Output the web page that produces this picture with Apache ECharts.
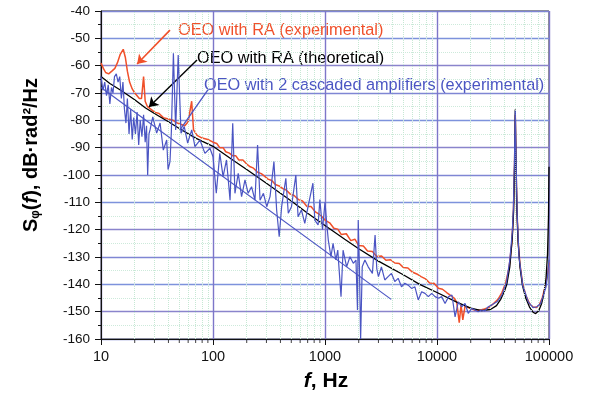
<!DOCTYPE html>
<html><head><meta charset="utf-8">
<script src="https://cdn.jsdelivr.net/npm/echarts@6/dist/echarts.min.js"></script>
<style>html,body{margin:0;padding:0;background:#fff}#c{width:591px;height:399px}</style>
</head><body><div id="c"></div>
<script>
// ---- data ----
const xTickLabels = {10:'10',100:'100',1000:'1000',10000:'10000',100000:'100000'};
const minorFreqs = [20,30,40,50,60,70,80,90,200,300,400,500,600,700,800,900,2000,3000,4000,5000,6000,7000,8000,9000,20000,30000,40000,50000,60000,70000,80000,90000];

const theoretical = [[10,-64],[12,-66.5],[15,-69],[20,-72.5],[25,-75.5],[30,-77.5],[40,-80.5],[50,-83],[70,-86.5],[100,-89.5],[150,-94.5],[200,-98],[300,-103],[500,-109.5],[700,-114],[1000,-118.5],[1500,-123.5],[2000,-127],[3000,-131.5],[5000,-136.5],[7000,-140],[10000,-143],[15000,-146.5],[20000,-148.7],[25000,-149.6],[30000,-149.2],[34000,-147.8],[37000,-145.5],[40000,-142.5],[42000,-140],[44700,-133.5],[47000,-123],[48300,-113],[49300,-97],[50000,-76],[50700,-97],[51700,-113],[53000,-124.5],[55000,-133.5],[58000,-140.5],[62000,-145],[67000,-148.3],[72000,-150.2],[76000,-150.7],[81000,-149.7],[86000,-147],[90000,-143.5],[94000,-138],[97000,-129],[99000,-115],[100000,-97]];

const raExperimental = [[10,-59],[10.5,-61],[11,-62.5],[11.7,-63],[12.5,-62],[13.3,-61],[14,-59],[14.8,-56],[15.8,-54],[16.5,-57],[17.2,-62],[18,-66],[19,-68.5],[20,-70],[21,-71],[22,-72],[23,-72],[24,-64],[24.8,-73],[26,-75],[28,-76],[30,-77],[33,-77.5],[36,-79],[40,-79.5],[44,-80],[48,-81],[52,-81.5],[56,-82],[60,-80.5],[64.5,-73],[67,-83.5],[72,-85.5],[80,-86.5],[90,-87],[100,-88],[108,-88.5],[115,-90],[123,-90],[130,-91.5],[140,-92],[150,-93],[160,-93],[170,-94.5],[185,-94.5],[200,-96],[215,-97],[230,-97.5],[250,-99],[270,-99.5],[290,-100.5],[310,-101.5],[335,-102],[360,-103.5],[390,-104],[420,-105],[450,-105.5],[490,-107],[530,-107.5],[580,-109],[630,-109.5],[690,-111.5],[750,-111.5],[820,-113.5],[900,-114.5],[1000,-116.5],[1100,-117.5],[1200,-119.5],[1300,-119.8],[1400,-121.8],[1550,-121.5],[1700,-124],[1850,-123.5],[2000,-125.8],[2200,-126],[2400,-127.8],[2650,-128],[2900,-129.8],[3200,-129.6],[3500,-131.2],[3850,-131],[4200,-132.2],[4600,-132.4],[5000,-133.8],[5500,-134],[6000,-135.5],[6600,-136.2],[7200,-137.2],[7900,-138],[8600,-139.5],[9400,-139.6],[10300,-141.4],[11200,-141.8],[12200,-143],[13200,-144],[14200,-145],[15000,-146.5],[15800,-154],[16400,-147.5],[17000,-153],[17800,-148],[19000,-148.5],[20500,-149],[22000,-149.5],[24000,-149.5],[26500,-149],[29000,-148.5],[32000,-147],[35000,-145.5],[38000,-143],[41000,-139.5],[44000,-134],[46500,-125],[48000,-115],[49200,-97],[50000,-78],[50800,-97],[51800,-113],[53000,-124],[55000,-132.5],[58000,-139.5],[62000,-144],[67000,-147],[72000,-148.3],[77000,-148.5],[82000,-147.5],[87000,-145],[91000,-142],[95000,-138],[98000,-135],[100000,-132]];

const cascaded = [[10,-64],[10.4,-69],[10.8,-66],[11.2,-71],[11.6,-67],[12,-74],[12.4,-68],[12.8,-70],[13.2,-64],[13.7,-63],[14.2,-66],[14.7,-64],[15.2,-72],[15.7,-66],[16.2,-76],[16.7,-81],[17.2,-72],[17.8,-85],[18.4,-76],[19,-87],[19.6,-79],[20.3,-85],[21,-77],[21.7,-89],[22.4,-80],[23.2,-86],[24,-78],[24.8,-88],[25.5,-82],[26.1,-100],[26.8,-85],[27.4,-83.5],[29,-78.7],[31.4,-84.7],[33.7,-81],[36,-90.9],[38.6,-87.2],[39.7,-98],[41.3,-95.1],[42.5,-84],[44.3,-55.5],[46.4,-83.5],[48.9,-56.1],[51.8,-84.7],[55.4,-82.3],[59.4,-88.3],[64.6,-83.5],[69,-89.6],[76.5,-87.2],[84.7,-92.1],[93.9,-90.2],[100,-93.3],[107,-106.7],[115,-92.1],[123,-100.6],[132,-94.5],[142,-109.2],[150,-81.1],[157,-106.7],[168,-99.4],[180,-107.9],[193,-101.8],[206,-106.7],[221,-104.3],[237,-109.2],[250,-89],[263,-109.2],[282,-106.7],[302,-111.6],[323,-107.9],[350,-95.1],[370,-112.8],[390,-122.6],[410,-111.6],[447,-101.2],[470,-114],[502,-111.6],[549,-100],[575,-115.3],[616,-112.8],[660,-117.7],[706,-111.6],[780,-103],[811,-116.5],[868,-118.3],[900,-109],[950,-120],[1000,-110],[1030,-116.5],[1070,-123.8],[1130,-129.9],[1180,-125],[1250,-131.1],[1300,-127.5],[1390,-144.5],[1450,-127.5],[1560,-133.6],[1670,-129.9],[1790,-132.3],[1890,-131.1],[1950,-149.4],[1980,-116.5],[2030,-133.6],[2080,-160],[2150,-133.6],[2270,-131.1],[2430,-133.6],[2650,-136],[2800,-122],[2900,-134.3],[3000,-137.2],[3190,-133.6],[3420,-138.4],[3660,-137.2],[3920,-136],[4200,-139],[4500,-137.8],[4820,-140.9],[5160,-139.6],[5530,-140.3],[5930,-141.5],[6350,-140.9],[6800,-145.7],[7290,-142.7],[7810,-143.3],[8370,-144.5],[8970,-143.3],[9610,-144.5],[10300,-145.1],[11000,-144.5],[11800,-147],[12700,-144.5],[13600,-143.9],[14500,-151.9],[15500,-146.4],[16600,-148.2],[17800,-147],[19000,-150.6],[20400,-148.8],[21800,-149.4],[23300,-150],[25000,-149.4],[26800,-149.7],[28700,-148.2],[30700,-147.6],[34300,-146.4],[38000,-143.9],[41800,-139],[44700,-131],[47000,-121],[48100,-112],[49200,-94],[50000,-76.5],[50800,-94],[52000,-115],[54000,-130],[58300,-140.5],[65500,-146.5],[72000,-148.5],[78000,-148.2],[84000,-147],[90000,-143.5],[94000,-141],[97000,-137],[100000,-131]];

const fitLine = [[10,-68],[3900,-145.5]];

const labels = ['OEO with RA (experimental)','OEO with RA (theoretical)','OEO with 2 cascaded amplifiers (experimental)'];
const arrowRed = [[41.3,-47],[21,-59.4]];
const arrowBlack = [[72,-57.9],[26.8,-75.1]];
const pointerBlue = [[90,-68.9],[50.7,-83.5]];

// ---- chart ----
const RED = '#f0502a', BLUE = '#4b55c3', BLACK = '#000';
const chart = echarts.init(document.getElementById('c'), null, {renderer:'canvas'});
const FONT = '"Liberation Sans", Arial, sans-serif';
chart.setOption({
  animation:false,
  backgroundColor:'#fff',
  grid:{left:101, right:42, top:11, bottom:60, show:true, borderColor:'#222', borderWidth:1, backgroundColor:'transparent'},
  xAxis:{type:'log', logBase:10, min:10, max:100000,
    axisLine:{show:true, onZero:false, lineStyle:{color:'#111', width:1}},
    axisTick:{show:true, length:6, inside:false, lineStyle:{color:'#111'}},
    axisLabel:{fontSize:14.5, color:'#111', fontFamily:FONT, margin:10,
      formatter:v=>xTickLabels[Math.round(v)] || String(Math.round(v))},
    splitLine:{show:true, lineStyle:{color:'#7d76c9', width:1.4}},
    minorTick:{show:false}, minorSplitLine:{show:false}
  },
  yAxis:{type:'value', min:-160, max:-40, interval:10,
    axisLine:{show:true, onZero:false, lineStyle:{color:'#111', width:1}},
    axisTick:{show:true, length:6, lineStyle:{color:'#111'}},
    minorTick:{show:true, splitNumber:2, length:3, lineStyle:{color:'#111'}},
    axisLabel:{fontSize:13.5, color:'#111', fontFamily:FONT, margin:11},
    splitLine:{show:true, lineStyle:{color:['#7f86d4','#8a84cc','#7d92dc'], width:1.3}},
    minorSplitLine:{show:true, lineStyle:{color:'#cdeadb', type:'dotted', width:1}}
  },
  graphic:[
    {type:'text', x:178, y:31, style:{text:labels[0], fill:RED, font:'16.3px '+FONT, verticalAlign:'middle'}},
    {type:'text', x:197, y:59, style:{text:labels[1], fill:BLACK, font:'16.3px '+FONT, verticalAlign:'middle'}},
    {type:'text', x:204, y:86, style:{text:labels[2], fill:BLUE, font:'16.3px '+FONT, verticalAlign:'middle'}},
    {type:'text', x:31, y:155, rotation:Math.PI/2,
      style:{text:'S{sub|φ}({it|f}), dB·rad²/Hz', fill:'#000', font:'bold 20px '+FONT, align:'center', verticalAlign:'middle',
        rich:{sub:{font:'bold 12px '+FONT, verticalAlign:'bottom', padding:[9,0,0,0]}, it:{font:'italic bold 20px '+FONT}}}},
    {type:'text', x:326, y:381, style:{text:'{it|f}, Hz', fill:'#000', font:'bold 21px '+FONT, align:'center', verticalAlign:'middle',
        rich:{it:{font:'italic bold 21px '+FONT}}}}
  ],
  series:[
    {type:'scatter', name:'minor ticks', z:1, silent:true, clip:false,
      data:minorFreqs.map(f=>[f,-160]), symbol:'rect', symbolSize:[1,4], symbolOffset:[0,2],
      itemStyle:{color:'#111'},
      markLine:{silent:true, symbol:'none', label:{show:false},
        lineStyle:{color:'#c6e8d4', type:'dotted', width:1},
        data:minorFreqs.map(f=>({xAxis:f}))}
    },
    {type:'line', name:labels[0], data:raExperimental, showSymbol:false, symbol:'none', z:3,
      lineStyle:{color:RED, width:1.5}},
    {type:'line', name:labels[1], data:theoretical, showSymbol:false, symbol:'none', z:4,
      lineStyle:{color:BLACK, width:1.3},
      markLine:{silent:true, label:{show:false}, symbolSize:9,
        data:[
          [{coord:arrowRed[0], symbol:'none', lineStyle:{color:RED, width:1.6, type:'solid'}},{coord:arrowRed[1], symbol:'arrow'}],
          [{coord:arrowBlack[0], symbol:'none', lineStyle:{color:BLACK, width:1.4, type:'solid'}},{coord:arrowBlack[1], symbol:'arrow'}],
          [{coord:pointerBlue[0], symbol:'none', lineStyle:{color:BLUE, width:1.3, type:'solid'}},{coord:pointerBlue[1], symbol:'none'}]
        ]}
    },
    {type:'line', name:labels[2], data:cascaded, showSymbol:false, symbol:'none', z:5,
      lineStyle:{color:BLUE, width:1.2}},
    {type:'line', name:'fit', data:fitLine, showSymbol:false, symbol:'none', z:5,
      lineStyle:{color:BLUE, width:1.2}}
  ]
});
</script></body></html>
